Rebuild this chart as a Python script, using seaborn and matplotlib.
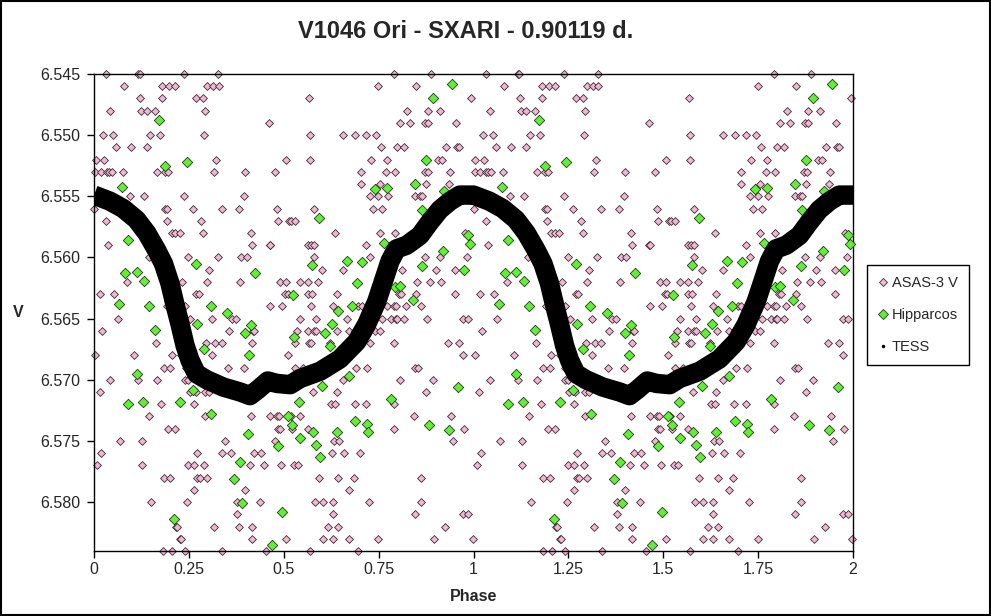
import numpy as np
import pandas as pd
import matplotlib.pyplot as plt
import seaborn as sns
from matplotlib.lines import Line2D
from matplotlib.patches import Rectangle

# ASAS-3 V: magnitudes are quantised to 0.001, so phases are listed per level (phase 0-1)
asas_levels = [6.545, 6.546, 6.547, 6.548, 6.549, 6.550, 6.551, 6.552, 6.553, 6.554,
               6.555, 6.556, 6.557, 6.558, 6.559, 6.560, 6.561, 6.562, 6.563, 6.564,
               6.565, 6.566, 6.567, 6.568, 6.569, 6.570, 6.571, 6.572, 6.573, 6.574,
               6.575, 6.576, 6.577, 6.578, 6.579, 6.580, 6.581, 6.582, 6.583, 6.584]
asas_phases = [
    [0.032, 0.117, 0.121, 0.238, 0.328, 0.791, 0.889],
    [0.080, 0.180, 0.198, 0.214, 0.298, 0.314, 0.329, 0.749, 0.849],
    [0.122, 0.180, 0.270, 0.288, 0.567, 0.994],
    [0.043, 0.124, 0.139, 0.162, 0.293, 0.826, 0.881, 0.913],
    [0.462, 0.807, 0.833, 0.873, 0.881, 0.955],
    [0.025, 0.051, 0.148, 0.175, 0.291, 0.570, 0.657, 0.688, 0.717, 0.744],
    [0.059, 0.098, 0.139, 0.757, 0.799, 0.818, 0.928, 0.957, 0.963],
    [0.004, 0.027, 0.322, 0.507, 0.570, 0.731, 0.773, 0.907, 0.918],
    [0.003, 0.018, 0.033, 0.039, 0.047, 0.077, 0.167, 0.188, 0.195, 0.317, 0.399, 0.478,
     0.704, 0.770, 0.794, 0.871, 0.879, 0.939],
    [0.704, 0.754, 0.875, 0.936],
    [0.095, 0.132, 0.238, 0.396, 0.728, 0.749, 0.775, 0.846, 0.860, 0.865],
    [0.000, 0.188, 0.193, 0.262, 0.336, 0.383, 0.483, 0.580, 0.736, 0.760],
    [0.032, 0.193, 0.283, 0.486, 0.515, 0.520, 0.530],
    [0.205, 0.214, 0.226, 0.288, 0.415, 0.636, 0.754, 0.794, 0.978],
    [0.038, 0.417, 0.463, 0.465, 0.565, 0.572, 0.580, 0.717],
    [0.144, 0.249, 0.326, 0.388, 0.402, 0.580, 0.728, 0.873, 0.913, 0.984],
    [0.304, 0.602, 0.657, 0.812, 0.902, 0.952],
    [0.088, 0.233, 0.299, 0.386, 0.491, 0.507, 0.544, 0.565, 0.591, 0.852, 0.886, 0.915],
    [0.017, 0.054, 0.220, 0.269, 0.276, 0.504, 0.510, 0.565, 0.575, 0.639, 0.804, 0.810,
     0.849, 0.952],
    [0.192, 0.241, 0.465, 0.496, 0.573, 0.630, 0.696, 0.705, 0.773, 0.791, 0.796, 0.823, 0.862],
    [0.062, 0.254, 0.312, 0.364, 0.375, 0.544, 0.586, 0.667, 0.760, 0.783, 0.796, 0.799,
     0.818, 0.878, 0.973, 0.986],
    [0.022, 0.357, 0.420, 0.422, 0.536, 0.565, 0.581, 0.586, 0.641, 0.673, 0.688, 0.741, 0.754],
    [0.164, 0.296, 0.320, 0.336, 0.417, 0.530, 0.567, 0.573, 0.623, 0.728, 0.791, 0.933, 0.962],
    [0.003, 0.106, 0.205, 0.229, 0.312, 0.512, 0.973],
    [0.184, 0.201, 0.242, 0.354, 0.396, 0.530, 0.552, 0.691, 0.720, 0.846, 0.854],
    [0.043, 0.117, 0.167, 0.241, 0.249, 0.657, 0.807, 0.894],
    [0.015, 0.252, 0.268, 0.293, 0.304, 0.578, 0.639, 0.875],
    [0.177, 0.264, 0.625, 0.636, 0.687, 0.717, 0.791],
    [0.146, 0.293, 0.415, 0.465, 0.483, 0.488, 0.519, 0.544, 0.844, 0.941],
    [0.196, 0.214, 0.486, 0.491, 0.522, 0.565, 0.791, 0.976],
    [0.069, 0.127, 0.346, 0.478, 0.633, 0.646, 0.947],
    [0.019, 0.272, 0.338, 0.362, 0.422, 0.441, 0.628, 0.659, 0.702],
    [0.009, 0.127, 0.249, 0.264, 0.291, 0.412, 0.449, 0.494, 0.528, 0.538],
    [0.184, 0.201, 0.272, 0.278, 0.299, 0.594, 0.644, 0.684, 0.862],
    [0.264, 0.399, 0.673],
    [0.151, 0.246, 0.378, 0.438, 0.583, 0.604, 0.630, 0.725, 0.862],
    [0.378, 0.630, 0.846, 0.973, 0.986],
    [0.217, 0.219, 0.317, 0.383, 0.417, 0.617, 0.644, 0.926],
    [0.227, 0.230, 0.417, 0.507, 0.604, 0.630, 0.673, 0.749, 0.897, 0.998],
    [0.183, 0.206, 0.241, 0.338, 0.454, 0.570, 0.696],
]

# Hipparcos (phase 0-1)
hip_phase = [0.172, 0.245, 0.188, 0.074, 0.090, 0.270, 0.083, 0.112, 0.133, 0.067, 0.146, 0.307,
             0.272, 0.162, 0.289, 0.112, 0.262, 0.090, 0.130, 0.227, 0.309, 0.212,
             0.593, 0.575, 0.667, 0.425, 0.525, 0.351, 0.644, 0.681,
             0.415, 0.628, 0.399, 0.528, 0.610, 0.623, 0.409, 0.673, 0.602, 0.541, 0.512, 0.522,
             0.688, 0.407, 0.578, 0.639, 0.544, 0.486, 0.586, 0.386, 0.596, 0.370, 0.391, 0.496,
             0.470,
             0.944, 0.894, 0.875, 0.846, 0.773, 0.741, 0.923, 0.865, 0.986, 0.765, 0.991, 0.781,
             0.920, 0.707, 0.863, 0.976, 0.694, 0.794, 0.807, 0.841,
             0.960, 0.783, 0.720, 0.723, 0.884, 0.936]
hip_v = [6.5488, 6.5522, 6.5525, 6.5542, 6.5586, 6.5605, 6.5613, 6.5612, 6.5619, 6.5638, 6.5640, 6.5640,
         6.5654, 6.5659, 6.5675, 6.5695, 6.5708, 6.5720, 6.5718, 6.5718, 6.5728, 6.5814,
         6.5568, 6.5606, 6.5603, 6.5613, 6.5631, 6.5645, 6.5644, 6.5640,
         6.5655, 6.5654, 6.5662, 6.5665, 6.5662, 6.5672, 6.5680, 6.5697, 6.5705, 6.5718, 6.5730, 6.5737,
         6.5734, 6.5744, 6.5743, 6.5743, 6.5748, 6.5754, 6.5753, 6.5767, 6.5763, 6.5781, 6.5801, 6.5808,
         6.5835,
         6.5458, 6.5470, 6.5520, 6.5540, 6.5543, 6.5544, 6.5546, 6.5561, 6.5582, 6.5588, 6.5589, 6.5594,
         6.5595, 6.5604, 6.5607, 6.5610, 6.5621, 6.5624, 6.5623, 6.5635,
         6.5706, 6.5716, 6.5736, 6.5743, 6.5737, 6.5741]

# TESS folded light curve (centre of the dense band, phase 0-1)
tess_phase = [0.000, 0.042, 0.077, 0.112, 0.139, 0.165, 0.183, 0.200, 0.213, 0.227, 0.240, 0.253,
              0.270, 0.297, 0.341, 0.385, 0.411, 0.432, 0.458, 0.482, 0.517, 0.543, 0.596, 0.648,
              0.692, 0.718, 0.745, 0.762, 0.780, 0.797, 0.824, 0.859, 0.885, 0.911, 0.938, 0.964,
              0.990]
tess_v = [6.5549, 6.5554, 6.5560, 6.5569, 6.5580, 6.5594, 6.5605, 6.5621, 6.5638, 6.5655, 6.5672, 6.5684,
          6.5695, 6.5700, 6.5706, 6.5710, 6.5713, 6.5708, 6.5701, 6.5703, 6.5704, 6.5699, 6.5693, 6.5683,
          6.5669, 6.5655, 6.5636, 6.5620, 6.5603, 6.5593, 6.5590, 6.5582, 6.5571, 6.5561, 6.5554, 6.5549,
          6.5549]

y_ticks = [6.545, 6.550, 6.555, 6.560, 6.565, 6.570, 6.575, 6.580]
x_ticks = [0, 0.25, 0.5, 0.75, 1, 1.25, 1.5, 1.75, 2]
x_labels = ['0', '0.25', '0.5', '0.75', '1', '1.25', '1.5', '1.75', '2']

# two cycles are shown: phase and phase + 1
asas_p = [p for ps in asas_phases for p in ps]
asas_m = [v for v, ps in zip(asas_levels, asas_phases) for _ in ps]
asas = pd.DataFrame({'phase': np.concatenate([asas_p, np.array(asas_p) + 1]),
                     'V': np.concatenate([asas_m, asas_m])})
hip = pd.DataFrame({'phase': np.concatenate([hip_phase, np.array(hip_phase) + 1]),
                    'V': np.concatenate([hip_v, hip_v])})
tess = pd.DataFrame({'phase': np.concatenate([tess_phase, np.array(tess_phase) + 1, [2.0]]),
                     'V': np.concatenate([tess_v, tess_v, tess_v[:1]])})

sns.set_style('white')
plt.rcParams['font.family'] = ['Liberation Sans', 'DejaVu Sans']

pink = '#F2B8D2'
green = '#62EE34'
edge = '#3c2c36'

fig = plt.figure(figsize=(9.91, 6.16), dpi=100)
ax = fig.add_axes([94 / 991, 1 - 551 / 616, 759 / 991, 477 / 616])

sns.scatterplot(data=asas, x='phase', y='V', marker='D', s=16, color=pink,
                edgecolor=edge, linewidth=0.6, ax=ax, clip_on=False, zorder=2)
sns.scatterplot(data=hip, x='phase', y='V', marker='D', s=28, color=green,
                edgecolor='#1d3d12', linewidth=0.6, ax=ax, clip_on=False, zorder=3)
sns.lineplot(data=tess, x='phase', y='V', color='black', linewidth=14, sort=False,
             estimator=None, ax=ax, zorder=4, solid_capstyle='butt')

ax.set_xlim(0, 2)
ax.set_ylim(6.584, 6.545)
ax.set_xticks(x_ticks)
ax.set_xticklabels(x_labels)
ax.set_yticks(y_ticks)
ax.set_yticklabels([f'{t:.3f}' for t in y_ticks])
ax.tick_params(axis='both', which='both', direction='out', length=5, width=1,
               labelsize=11.5, color='black', bottom=True, left=True)
ax.tick_params(axis='y', pad=5)
ax.tick_params(axis='x', pad=3)
for s in ax.spines.values():
    s.set_color('black')
    s.set_linewidth(1)

ax.set_xlabel('Phase', fontsize=11.5, fontweight='bold')
ax.set_ylabel('V', fontsize=11.5, fontweight='bold', rotation=0)
ax.xaxis.set_label_coords(0.5, -0.096)
ax.yaxis.set_label_coords(-0.100, 0.5)
ax.yaxis.label.set_va('center')
ax.xaxis.label.set_va('center')

fig.text(466 / 991, 1 - 32 / 616, 'V1046 Ori - SXARI - 0.90119 d.', ha='center', va='center',
         fontsize=17, fontweight='bold')

handles = [
    Line2D([], [], marker='D', linestyle='none', markersize=4, markerfacecolor=pink,
           markeredgecolor=edge, markeredgewidth=0.6),
    Line2D([], [], marker='D', linestyle='none', markersize=5.3, markerfacecolor=green,
           markeredgecolor='#1d3d12', markeredgewidth=0.6),
    Line2D([], [], marker='.', linestyle='none', markersize=3, color='black'),
]
leg = fig.legend(handles, ['ASAS-3 V', 'Hipparcos', 'TESS'], loc='upper left',
                 bbox_to_anchor=(867 / 991, 1 - 265 / 616), bbox_transform=fig.transFigure,
                 frameon=True, fancybox=False, edgecolor='black', framealpha=1,
                 fontsize=10.5, borderpad=0.75, labelspacing=1.25, handlelength=0.7,
                 handletextpad=0.25, borderaxespad=0)
leg.get_frame().set_linewidth(1)

fig.add_artist(Rectangle((0.001, 0.001), 0.998, 0.997, transform=fig.transFigure,
                         fill=False, edgecolor='black', linewidth=1.5))

fig.savefig('out.png', dpi=100)
